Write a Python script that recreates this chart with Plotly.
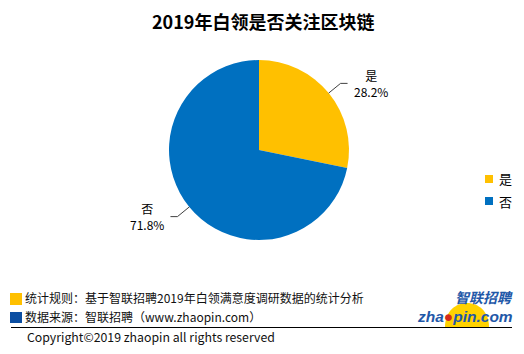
import math
import plotly.graph_objects as go

W, H = 524, 354

title = "2019年白领是否关注区块链"
labels = ["是", "否"]
values = [28.2, 71.8]
colors = ["#FFC000", "#0070C0"]
note_rule = "统计规则：基于智联招聘2019年白领满意度调研数据的统计分析"
note_src = "数据来源：智联招聘（www.zhaopin.com）"
copyright_txt = "Copyright©2019 zhaopin all rights reserved"

FONT = "Noto Sans CJK SC, Noto Sans, sans-serif"

def px(x):
    return x / W

def py(y):
    return 1 - y / H

cx, cy, R = 259, 150, 90

fig = go.Figure()
fig.add_trace(go.Pie(
    labels=labels, values=values, sort=False, direction="clockwise", rotation=0,
    marker=dict(colors=colors, line=dict(width=0)),
    textinfo="none", hoverinfo="label+percent", showlegend=False,
    domain=dict(x=[px(cx - R), px(cx + R)], y=[py(cy + R), py(cy - R)]),
))

annotations = []
shapes = []
total = sum(values)
acc = 0.0
for lab, v in zip(labels, values):
    mid = (acc + v / 2) / total * 2 * math.pi
    acc += v
    sx, sy = math.sin(mid), -math.cos(mid)
    x0, y0 = cx + R * sx, cy + R * sy
    x1, y1 = cx + R * 1.17 * sx, cy + R * 1.17 * sy
    side = 1 if sx >= 0 else -1
    x2 = x1 + 7 * side
    shapes.append(dict(type="path", xref="paper", yref="paper",
                       path=f"M {px(x0)},{py(y0)} L {px(x1)},{py(y1)} L {px(x2)},{py(y1)}",
                       line=dict(color="#404040", width=1)))
    annotations.append(dict(
        x=px(x2 + 4 * side), y=py(y1), xref="paper", yref="paper",
        text=f"{lab}<br>{v:.1f}%", showarrow=False, align="center",
        xanchor="left" if side > 0 else "right", yanchor="middle",
        font=dict(size=12, color="#000000", family=FONT)))

# manual legend
for i, (lab, col) in enumerate(zip(labels, colors)):
    ly = 179 + i * 22
    shapes.append(dict(type="rect", xref="paper", yref="paper", x0=px(485), x1=px(493),
                       y0=py(ly + 4), y1=py(ly - 4), fillcolor=col, line=dict(width=0)))
    annotations.append(dict(x=px(497), y=py(ly), xref="paper", yref="paper", text=lab,
                            showarrow=False, xanchor="left", yanchor="middle",
                            font=dict(size=13, color="#000000", family=FONT)))

# title
annotations.append(dict(x=px(263), y=py(21), xref="paper", yref="paper", text=f"<b>{title}</b>",
                        showarrow=False, xanchor="center", yanchor="middle",
                        font=dict(size=18, color="#000000", family=FONT)))
# footer notes
shapes.append(dict(type="rect", xref="paper", yref="paper", x0=px(10), x1=px(22), y0=py(305), y1=py(293),
                   fillcolor="#FFC000", line=dict(width=0)))
shapes.append(dict(type="rect", xref="paper", yref="paper", x0=px(10), x1=px(22), y0=py(323), y1=py(312),
                   fillcolor="#0B4EA2", line=dict(width=0)))
annotations.append(dict(x=px(23), y=py(297), xref="paper", yref="paper", text=note_rule,
                        showarrow=False, xanchor="left", yanchor="middle",
                        font=dict(size=12, color="#111111", family=FONT)))
annotations.append(dict(x=px(23), y=py(316), xref="paper", yref="paper", text=note_src,
                        showarrow=False, xanchor="left", yanchor="middle",
                        font=dict(size=12, color="#111111", family=FONT)))
shapes.append(dict(type="line", xref="paper", yref="paper", x0=px(11), x1=px(512), y0=py(327.5), y1=py(327.5),
                   line=dict(color="#000000", width=1)))
annotations.append(dict(x=px(25), y=py(337), xref="paper", yref="paper", text=copyright_txt,
                        showarrow=False, xanchor="left", yanchor="middle",
                        font=dict(size=12.3, color="#111111", family=FONT)))
# logo
shapes.append(dict(type="path", xref="paper", yref="paper",
                   path=(f"M {px(445)},{py(327)} "
                         f"C {px(445)},{py(295)} {px(489)},{py(295)} {px(489)},{py(327)} Z"),
                   fillcolor="#FFD200", line=dict(width=0), layer="below"))
annotations.append(dict(x=px(454), y=py(297), xref="paper", yref="paper", text="<b><i>智联招聘</i></b>",
                        showarrow=False, xanchor="left", yanchor="middle", borderpad=0,
                        font=dict(size=14, color="#1F58A8", family=FONT)))
annotations.append(dict(x=px(416), y=py(316), xref="paper", yref="paper",
                        text="<b><i>zha<span style='color:#D42A1E'>●</span>pin.com</i></b>",
                        showarrow=False, xanchor="left", yanchor="middle", borderpad=0,
                        font=dict(size=15.5, color="#1F58A8", family="Liberation Sans, Arial, sans-serif")))

fig.update_layout(
    width=W, height=H, margin=dict(l=0, r=0, t=0, b=0),
    paper_bgcolor="#FFFFFF", plot_bgcolor="#FFFFFF",
    showlegend=False,
    annotations=annotations, shapes=shapes,
)

fig.write_html("out.html")
